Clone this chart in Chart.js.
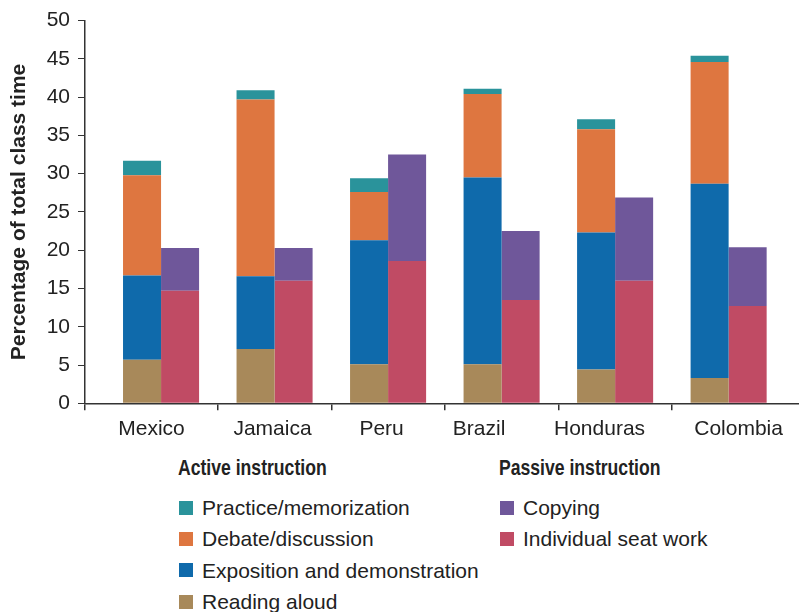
<!DOCTYPE html>
<html>
<head>
<meta charset="utf-8">
<title>Share of class time by activity</title>
<script src="https://cdn.jsdelivr.net/npm/chart.js@4.4.1/dist/chart.umd.min.js"></script>
<style>
  body { margin: 0; background: #fff; font-family: 'Liberation Sans', Arial, sans-serif; color: #222; }
  #wrap { position: relative; width: 799px; height: 612px; overflow: hidden; }
  #chartBox { position: absolute; left: 0; top: 0; width: 799px; height: 445px; }
  .legendCol { position: absolute; top: 451px; }
  .legendCol h4 {
    position: relative; top: 1px;
    margin: 0 0 10px 0; height: 31px; line-height: 31px; white-space: nowrap;
    font-size: 22px; font-weight: bold; color: #222;
    transform: scaleX(0.8); transform-origin: left center;
  }
  .item { height: 31.3px; line-height: 31.3px; font-size: 21px; white-space: nowrap; display: flex; align-items: center; }
  .swatch { width: 14px; height: 14px; margin: 0 9px 0 1px; flex: none; }
</style>
</head>
<body>
<div id="wrap">
  <div id="chartBox"><canvas id="chart"></canvas></div>
  <div class="legendCol" id="activeLegend" style="left:178px"><h4>Active instruction</h4></div>
  <div class="legendCol" id="passiveLegend" style="left:499px"><h4>Passive instruction</h4></div>
</div>
<script>
const countries = ['Mexico', 'Jamaica', 'Peru', 'Brazil', 'Honduras', 'Colombia'];

// active instruction (segments, bottom to top)
const readingAloud = [5.7, 7.1, 5.1, 5.1, 4.4, 3.3];
const exposition   = [11.0, 9.5, 16.2, 24.4, 17.9, 25.4];
const debate       = [13.1, 23.1, 6.3, 10.9, 13.5, 15.9];
const practice     = [1.9, 1.2, 1.8, 0.7, 1.3, 0.8];

// passive instruction
const seatWork = [14.7, 16.0, 18.6, 13.5, 16.0, 12.7];
const copying  = [5.6, 4.3, 13.9, 9.0, 10.9, 7.7];

const yTicks = [0, 5, 10, 15, 20, 25, 30, 35, 40, 45, 50];

const series = [
  { label: 'Reading aloud', values: readingAloud, color: '#a8895a', stack: 'active' },
  { label: 'Exposition and demonstration', values: exposition, color: '#0f6aab', stack: 'active' },
  { label: 'Debate/discussion', values: debate, color: '#de7640', stack: 'active' },
  { label: 'Practice/memorization', values: practice, color: '#2a939b', stack: 'active' },
  { label: 'Individual seat work', values: seatWork, color: '#c04b64', stack: 'passive' },
  { label: 'Copying', values: copying, color: '#6f579a', stack: 'passive' }
];

const textColor = '#222';
const axisColor = '#333';
const font = { family: "'Liberation Sans', Arial, sans-serif", size: 21 };

// x range in category units, chosen so the axis runs from the y axis to the right edge
const xMin = -0.67;
const xMax = 5.62;
// the country names in the original sit a little off the bar centres
const labelShift = [-0.084, -0.018, -0.057, -0.198, -0.137, 0.088];

const datasets = series.map(s => ({
  label: s.label,
  stack: s.stack,
  xAxisID: 'x',
  data: s.values.map((v, i) => ({ x: i, y: v })),
  backgroundColor: s.color,
  borderWidth: 0,
  categoryPercentage: 0.67,
  barPercentage: 1.0
}));

new Chart(document.getElementById('chart'), {
  type: 'bar',
  data: { datasets: datasets },
  options: {
    responsive: true,
    maintainAspectRatio: false,
    animation: false,
    layout: { padding: { top: 20, right: 0, left: 0, bottom: 0 } },
    plugins: {
      legend: { display: false },
      tooltip: { enabled: false }
    },
    scales: {
      // axis line + tick marks between the countries
      x: {
        type: 'linear',
        position: 'bottom',
        weight: 0,
        offset: false,
        bounds: 'data',
        min: xMin,
        max: xMax,
        afterBuildTicks: function(scale) {
          const t = [{ value: xMin }];
          for (let i = 0; i < countries.length - 1; i++) t.push({ value: i + 0.5 });
          scale.ticks = t;
        },
        afterFit: function(scale) {
          scale.height = 7;
        },
        ticks: { display: false },
        grid: {
          offset: false,
          drawOnChartArea: false,
          drawTicks: true,
          tickLength: 7,
          lineWidth: 1.5,
          color: axisColor
        },
        border: { display: true, color: axisColor, width: 1.5 }
      },
      // country names
      xLabels: {
        type: 'linear',
        position: 'bottom',
        weight: 1,
        offset: false,
        bounds: 'data',
        min: xMin,
        max: xMax,
        afterBuildTicks: function(scale) {
          scale.ticks = countries.map((c, i) => ({ value: i + labelShift[i] }));
        },
        afterFit: function(scale) {
          scale.height = 34.7;
        },
        ticks: {
          color: textColor,
          font: font,
          padding: 6,
          maxRotation: 0,
          autoSkip: false,
          callback: function(value, index) {
            return countries[index];
          }
        },
        grid: { display: false, drawTicks: false, offset: false },
        border: { display: false }
      },
      y: {
        stacked: true,
        min: 0,
        max: 50,
        afterBuildTicks: function(scale) {
          scale.ticks = yTicks.map(v => ({ value: v }));
        },
        afterFit: function(scale) {
          scale.width = 85;
        },
        ticks: {
          color: textColor,
          font: font,
          padding: 8
        },
        grid: {
          drawOnChartArea: false,
          drawTicks: true,
          tickLength: 7,
          color: axisColor
        },
        border: { display: true, color: axisColor, width: 1.5 },
        title: {
          display: true,
          text: 'Percentage of total class time',
          color: textColor,
          font: { family: font.family, size: 21, weight: 'bold' },
          padding: { top: 7, bottom: 0 }
        }
      }
    }
  }
});

// custom two-column legend, top-down order like the stacks
function addLegendItems(containerId, stack) {
  const box = document.getElementById(containerId);
  series.filter(s => s.stack === stack).reverse().forEach(s => {
    const row = document.createElement('div');
    row.className = 'item';
    const sw = document.createElement('span');
    sw.className = 'swatch';
    sw.style.background = s.color;
    const txt = document.createElement('span');
    txt.textContent = s.label;
    row.appendChild(sw);
    row.appendChild(txt);
    box.appendChild(row);
  });
}
addLegendItems('activeLegend', 'active');
addLegendItems('passiveLegend', 'passive');
</script>
</body>
</html>
